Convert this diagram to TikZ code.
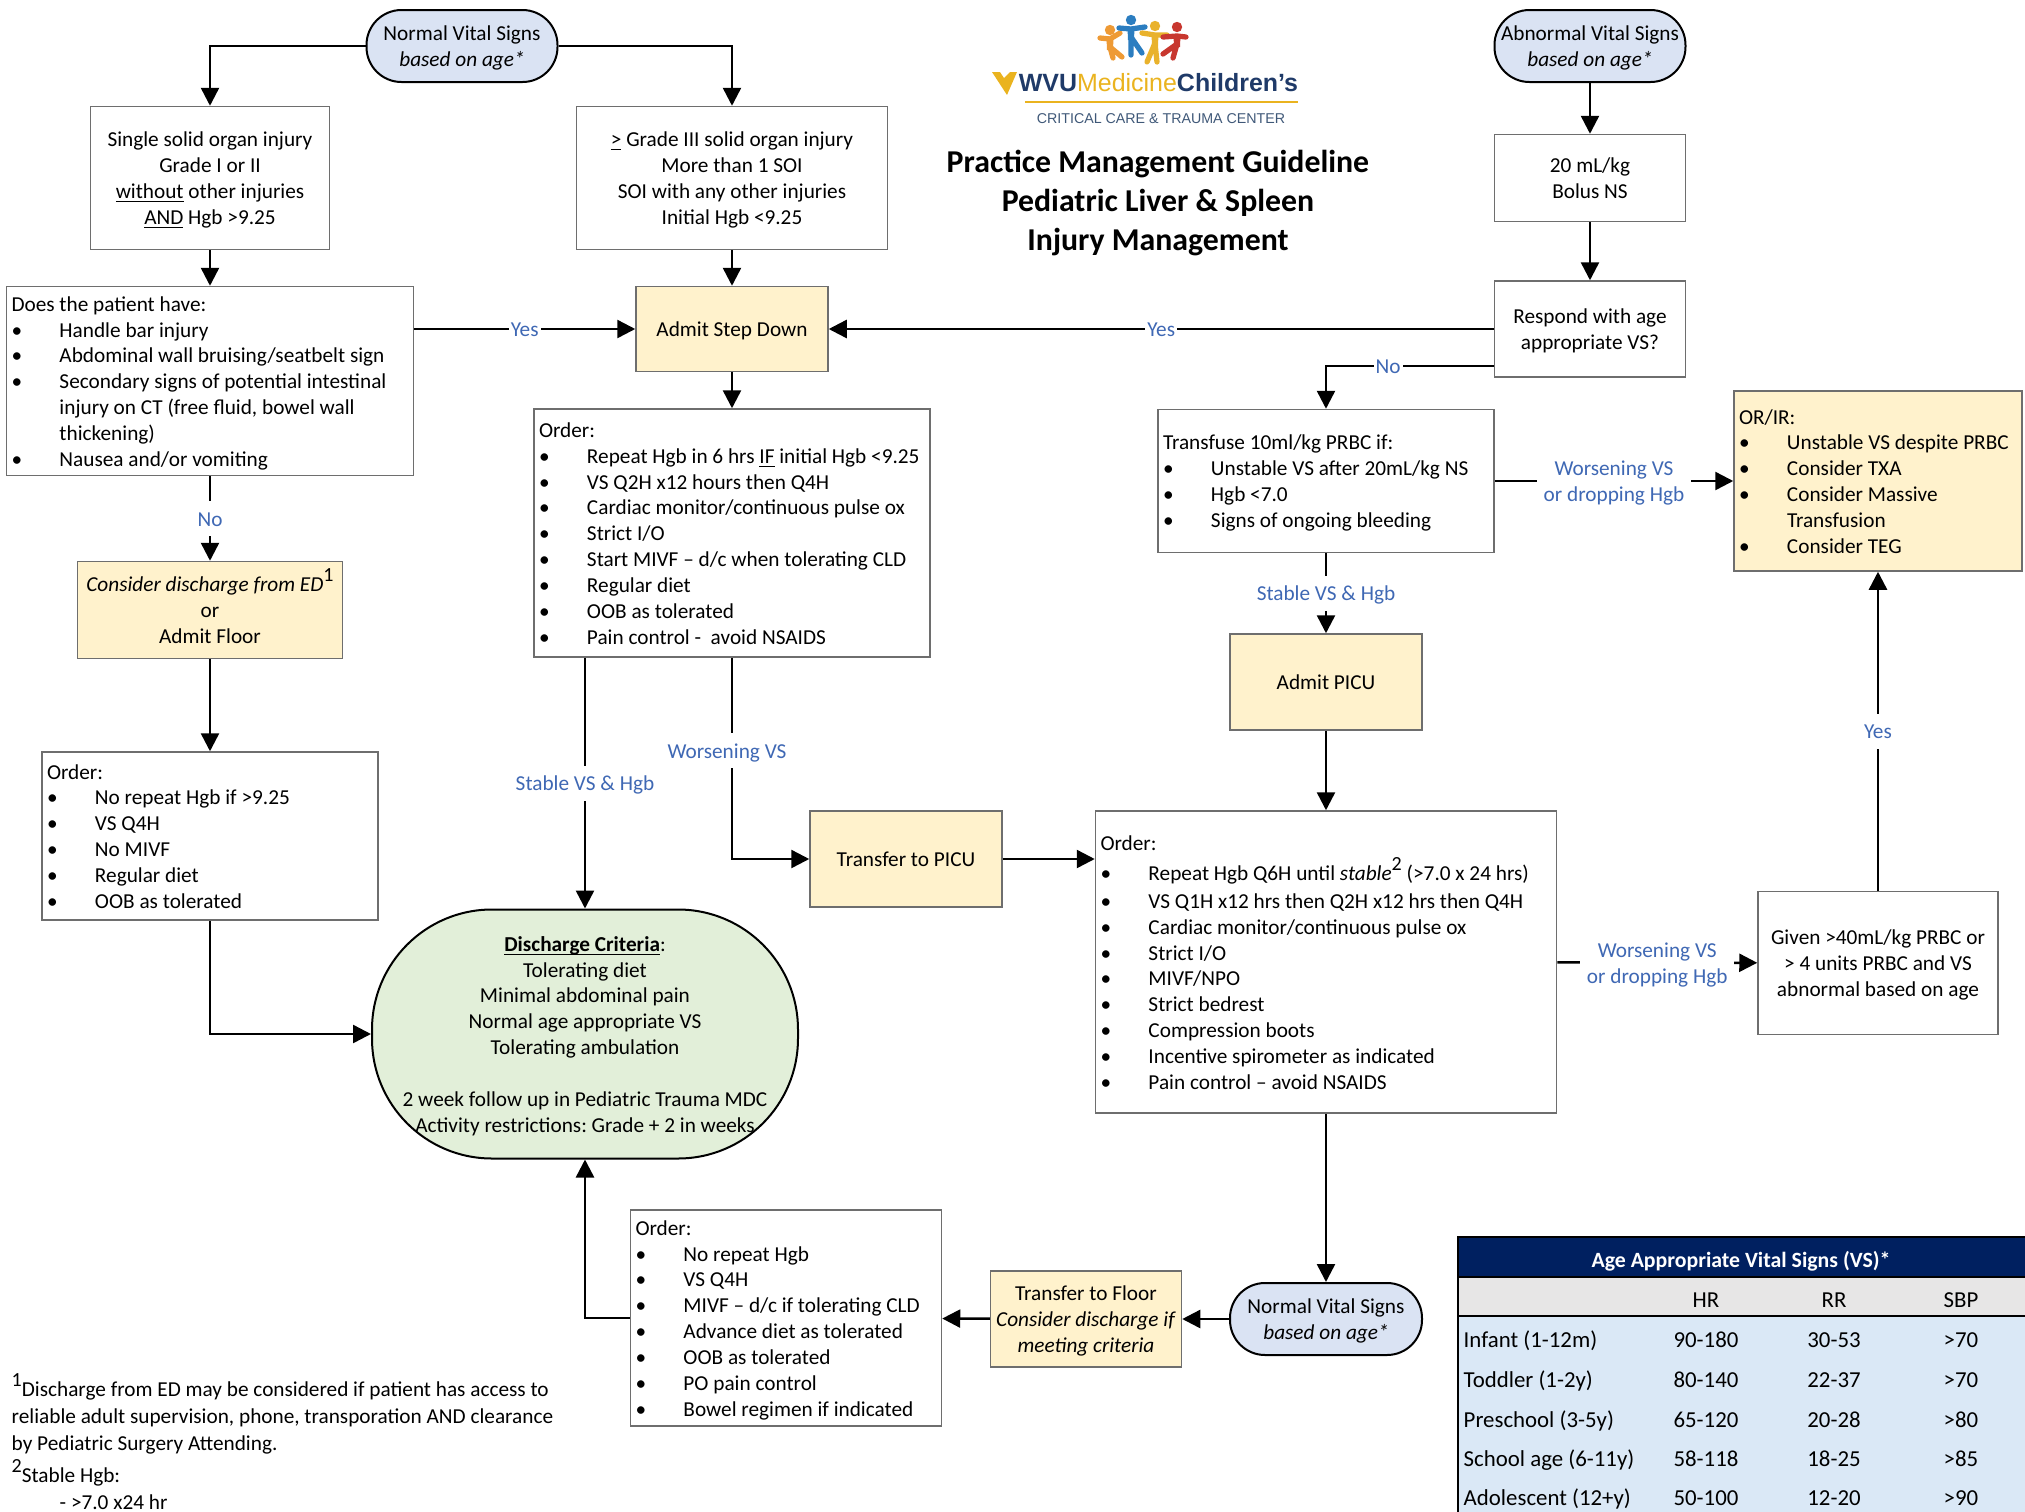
\documentclass[tikz,border=0pt]{standalone}
\usepackage{fontspec}
\setmainfont{Carlito}
\newfontfamily\logofont{Liberation Sans}
\usepackage{tikz}
\usetikzlibrary{arrows.meta}
\frenchspacing

\definecolor{ybfill}{HTML}{FFF2CC}
\definecolor{pillfill}{HTML}{DAE3F3}
\definecolor{dcfill}{HTML}{E2EFD9}
\definecolor{lblblue}{HTML}{3F68B4}
\definecolor{boxgray}{HTML}{6E6E6E}
\definecolor{navyhead}{HTML}{002060}
\definecolor{grayrow}{HTML}{E7E6E6}
\definecolor{bluerow}{HTML}{DAE8F6}
\definecolor{logonavy}{HTML}{1F3A68}
\definecolor{logogrey}{HTML}{3F5878}
\definecolor{logogold}{HTML}{EAB31F}
\definecolor{kidor}{HTML}{EE9A35}
\definecolor{kidbl}{HTML}{2B7DC0}
\definecolor{kidye}{HTML}{E9B22C}
\definecolor{kidre}{HTML}{C8372F}

\newsavebox{\ulbox}
\newcommand{\ulword}[1]{\leavevmode\sbox{\ulbox}{#1}\rlap{\rule[-1pt]{\wd\ulbox}{0.35pt}}\usebox{\ulbox}}
\newcommand{\itm}[1]{\makebox[0.48cm][l]{•}#1}
\newcommand{\ind}{\hspace*{0.48cm}}
\newcommand{\sups}[1]{\raisebox{1ex}{\fontsize{5.7}{6}\selectfont #1}}
\newcommand{\topstrut}{\rule{0pt}{6.6pt}}
% one of the four children of the logo: head, colour, arm and foot ends
\newcommand{\logokid}[7]{
\begin{scope}[shift={(#1,#2)}]
\fill[#3] (0,0) circle (0.052);
\draw[#3,line width=1.5pt,line cap=round,line join=round] #4 -- (0,0.09) -- #5;
\draw[#3,line width=1.5pt,line cap=round,line join=round] #6 -- (0,0.17) -- #7;
\fill[#3] (-0.035,0.08) -- (0.035,0.08) -- (0.03,0.2) -- (-0.03,0.2) -- cycle;
\end{scope}
}

\tikzset{
basefont/.style={font=\fontsize{6.05}{7.35}\selectfont,
  execute at begin node={\topstrut},execute at end node={\strut}},
wbox/.style 2 args={draw=boxgray,line width=0.015cm,fill=white,basefont,align=flush center,
  text width=#1cm-0.1cm,minimum width=#1cm,minimum height=#2cm,inner xsep=0.05cm,inner ysep=0pt},
listbox/.style 2 args={wbox={#1}{#2},align=flush left},
ybox/.style 2 args={wbox={#1}{#2},fill=ybfill},
pill/.style 2 args={draw=black,line width=0.02cm,fill=pillfill,basefont,align=flush center,
  text width=#1cm-0.06cm,minimum width=#1cm,minimum height=#2cm,inner xsep=0.03cm,inner ysep=0pt,rounded corners=0.35cm},
arr/.style={line width=0.025cm,-{Triangle[length=0.18cm,width=0.18cm]}},
lbl/.style={fill=white,text=lblblue,basefont,inner sep=0.02cm},
lbltwo/.style={lbl,align=flush center,text width=1.5cm},
tabtext/.style={font=\fontsize{6.5}{7.35}\selectfont,inner sep=0pt,
  execute at begin node={\topstrut},execute at end node={\strut}}
}

\begin{document}
\begin{tikzpicture}[x=1cm,y=-1cm]
\useasboundingbox (0,0) rectangle (20.25,15.12);

% logo and title
\logokid{11.10}{0.30}{kidor}{(-0.10,0.08)}{(0.10,0.03)}{(0.03,0.28)}{(0.12,0.27)}
\logokid{11.31}{0.20}{kidbl}{(-0.12,0.08)}{(0.14,0.07)}{(0,0.35)}{(0.11,0.33)}
\logokid{11.55}{0.26}{kidye}{(-0.13,0.07)}{(0.12,0.09)}{(-0.08,0.36)}{(0.02,0.36)}
\logokid{11.77}{0.27}{kidre}{(-0.14,0.10)}{(0.09,0.10)}{(-0.14,0.27)}{(-0.04,0.31)}
\fill[logogold] (9.92,0.72) -- (10.0,0.72) -- (10.04,0.78) -- (10.1,0.72) -- (10.17,0.72) -- (10.07,0.95) -- cycle;
\node[inner sep=0pt,font=\logofont\fontsize{7.1}{8}\selectfont] (logoname) at (11.585,0.83)
  {\textcolor{logonavy}{\textbf{WVU}}\textcolor{logogold}{Medicine}\textcolor{logonavy}{\textbf{Children’s}}};
\draw[logogold,line width=0.02cm] (10.25,1.017) -- (12.98,1.017);
\node[inner sep=0pt,text=logogrey,font=\logofont\fontsize{4.05}{5}\selectfont] (logocenter) at (11.61,1.19) {CRITICAL CARE \& TRAUMA CENTER};
\node[align=center,inner sep=0pt,font=\fontsize{9.05}{11}\selectfont\bfseries] (title) at (11.58,2.03)
  {Practice Management Guideline\\Pediatric Liver \& Spleen\\Injury Management};

% left and middle columns
\node[pill={1.91}{0.72}] (normalone) at (4.62,0.46) {Normal Vital Signs\\\textit{based on age*}};
\node[wbox={2.39}{1.43}] (single) at (2.10,1.78) {Single solid organ injury\\Grade I or II\\\ulword{without} other injuries\\\ulword{AND} Hgb >9.25};
\node[wbox={3.11}{1.43}] (grade) at (7.32,1.78) {\ulword{>} Grade III solid organ injury\\More than 1 SOI\\SOI with any other injuries\\Initial Hgb <9.25};
\node[listbox={4.07}{1.89}] (patient) at (2.10,3.81) {Does the patient have:\\\itm{Handle bar injury}\\\itm{Abdominal wall bruising/seatbelt sign}\\\itm{Secondary signs of potential intestinal}\\\ind injury on CT (free fluid, bowel wall\\\ind thickening)\\\itm{Nausea and/or vomiting}};
\node[ybox={1.92}{0.85}] (stepdown) at (7.32,3.29) {Admit Step Down};
\node[listbox={3.96}{2.48}] (orderone) at (7.32,5.33) {Order:\\\itm{Repeat Hgb in 6 hrs \ulword{IF} initial Hgb <9.25}\\\itm{VS Q2H x12 hours then Q4H}\\\itm{Cardiac monitor/continuous pulse ox}\\\itm{Strict I/O}\\\itm{Start MIVF – d/c when tolerating CLD}\\\itm{Regular diet}\\\itm{OOB as tolerated}\\\itm{Pain control -\ \ avoid NSAIDS}};
\node[ybox={2.65}{0.97}] (consider) at (2.10,6.10) {\textit{Consider discharge from ED}\sups{1}\\or\\Admit Floor};
\node[listbox={3.36}{1.68}] (orderleft) at (2.10,8.36) {Order:\\\itm{No repeat Hgb if >9.25}\\\itm{VS Q4H}\\\itm{No MIVF}\\\itm{Regular diet}\\\itm{OOB as tolerated}};
\node[ybox={1.92}{0.96}] (transferpicu) at (9.06,8.59) {Transfer to PICU};
\node[wbox={4.26}{2.49},draw=black,line width=0.02cm,fill=dcfill,rounded corners=1.2cm] (discharge) at (5.85,10.34)
  {\textbf{\ulword{Discharge Criteria}}:\\Tolerating diet\\Minimal abdominal pain\\Normal age appropriate VS\\Tolerating ambulation\\[7.35pt]2 week follow up in Pediatric Trauma MDC\\Activity restrictions: Grade + 2 in weeks};
\node[listbox={3.11}{2.16}] (orderlow) at (7.86,13.18) {Order:\\\itm{No repeat Hgb}\\\itm{VS Q4H}\\\itm{MIVF – d/c if tolerating CLD}\\\itm{Advance diet as tolerated}\\\itm{OOB as tolerated}\\\itm{PO pain control}\\\itm{Bowel regimen if indicated}};
\node[ybox={1.91}{0.96}] (transferfloor) at (10.86,13.19) {Transfer to Floor\\\textit{Consider discharge if}\\\textit{meeting criteria}};
\node[pill={1.92}{0.72}] (normalthree) at (13.26,13.19) {Normal Vital Signs\\\textit{based on age*}};

% right columns
\node[pill={1.91}{0.72}] (abnormal) at (15.90,0.46) {Abnormal Vital Signs\\\textit{based on age*}};
\node[wbox={1.91}{0.87}] (twenty) at (15.90,1.78) {20 mL/kg\\Bolus NS};
\node[wbox={1.91}{0.96}] (respond) at (15.90,3.29) {Respond with age\\appropriate VS?};
\node[listbox={3.36}{1.43}] (transfuse) at (13.26,4.81) {Transfuse 10ml/kg PRBC if:\\\itm{Unstable VS after 20mL/kg NS}\\\itm{Hgb <7.0}\\\itm{Signs of ongoing bleeding}};
\node[listbox={2.88}{1.80},fill=ybfill] (orir) at (18.78,4.81) {OR/IR:\\\itm{Unstable VS despite PRBC}\\\itm{Consider TXA}\\\itm{Consider Massive}\\\ind Transfusion\\\itm{Consider TEG}};
\node[ybox={1.92}{0.96}] (picu) at (13.26,6.82) {Admit PICU};
\node[listbox={4.61}{3.02}] (orderbig) at (13.26,9.62) {Order:\\[1.2pt]\itm{Repeat Hgb Q6H until \textit{stable}\sups{2} (>7.0 x 24 hrs)}\\[0.7pt]\itm{VS Q1H x12 hrs then Q2H x12 hrs then Q4H}\\\itm{Cardiac monitor/continuous pulse ox}\\\itm{Strict I/O}\\\itm{MIVF/NPO}\\\itm{Strict bedrest}\\\itm{Compression boots}\\\itm{Incentive spirometer as indicated}\\\itm{Pain control – avoid NSAIDS}};
\node[wbox={2.40}{1.43}] (given) at (18.78,9.63) {Given >40mL/kg PRBC or\\> 4 units PRBC and VS\\abnormal based on age};

% connectors
\draw[arr] (normalone.west) -| (single.north);
\draw[arr] (normalone.east) -| (grade.north);
\draw[arr] (abnormal) -- (twenty);
\draw[arr] (twenty) -- (respond);
\draw[arr] (single) -- (single |- patient.north);
\draw[arr] (grade) -- (stepdown);
\draw[arr] (patient.east |- stepdown.west) -- node[lbl] (yesone) {Yes} (stepdown.west);
\draw[arr] (respond.west) -- node[lbl] (yestwo) {Yes} (stepdown.east);
\draw[arr] ([yshift=0.12cm]respond.south west) -| node[lbl,pos=0.315] (notwo) {No} (transfuse.north);
\draw[arr] (stepdown) -- (orderone);
\draw[arr] (patient) -- node[lbl] (noone) {No} (consider);
\draw[arr] (consider) -- (orderleft);
\draw[arr] (orderleft.south) |- (discharge.west);
\draw[arr] (discharge.north |- orderone.south) -- node[lbl] (stableone) {Stable VS \& Hgb} (discharge.north);
\draw[arr] (orderone.south) |- node[lbl,pos=0.23,xshift=-0.05cm] (worseone) {Worsening VS} (transferpicu.west);
\draw[arr] (transferpicu.east) -- (orderbig.west |- transferpicu.east);
\draw[arr] (transfuse) -- node[lbl] (stabletwo) {Stable VS \& Hgb} (picu);
\draw[arr] (picu) -- (orderbig);
\draw[arr] (transfuse) -- node[lbltwo] (worsetwo) {Worsening VS\\or dropping Hgb} (orir);
\draw[arr] (orderbig) -- node[lbltwo] (worsethree) {Worsening VS\\or dropping Hgb} (given);
\draw[arr] (given) -- node[lbl] (yesthree) {Yes} (orir);
\draw[arr] (orderbig) -- (normalthree);
\draw[arr] (normalthree) -- (transferfloor);
\draw[arr] (transferfloor) -- (orderlow);
\draw[arr] (orderlow.west) -| (discharge.south);

% footnotes
\node[anchor=north west,align=left,inner sep=0pt,font=\fontsize{6.05}{7.7}\selectfont] (notes) at (0.11,13.73)
  {\sups{1}Discharge from ED may be considered if patient has access to\\reliable adult supervision, phone, transporation AND clearance\\by Pediatric Surgery Attending.\\[1.2pt]\sups{2}Stable Hgb:\\[0.2pt]\ind - >7.0 x24 hr};

% vital signs table
\fill[bluerow] (14.58,13.16) rectangle (20.25,15.12);
\fill[grayrow] (14.58,12.77) rectangle (20.25,13.16);
\fill[navyhead] (14.58,12.37) rectangle (20.25,12.77);
\draw[black,line width=0.025cm] (20.25,12.37) -- (14.58,12.37) -- (14.58,15.12);
\draw[black,line width=0.025cm] (14.58,12.77) -- (20.25,12.77);
\draw[black,line width=0.025cm] (14.58,13.16) -- (20.25,13.16);
\node[tabtext,text=white,font=\fontsize{6.2}{7.35}\selectfont\bfseries] (tabhead) at (17.41,12.60) {Age Appropriate Vital Signs (VS)*};
\node[tabtext] (tabhr) at (17.06,13.0) {HR};
\node[tabtext] (tabrr) at (18.34,13.0) {RR};
\node[tabtext] (tabsbp) at (19.61,13.0) {SBP};
\foreach \rowy/\rowname/\hrv/\rrv/\sbpv in {13.40/{Infant (1-12m)}/90-180/30-53/>70, 13.80/{Toddler (1-2y)}/80-140/22-37/>70, 14.20/{Preschool (3-5y)}/65-120/20-28/>80, 14.59/{School age (6-11y)}/58-118/18-25/>85, 14.98/{Adolescent (12+y)}/50-100/12-20/>90}
{
\node[tabtext,anchor=west] (name\rowy) at (14.63,\rowy) {\rowname};
\node[tabtext] (hr\rowy) at (17.06,\rowy) {\hrv};
\node[tabtext] (rr\rowy) at (18.34,\rowy) {\rrv};
\node[tabtext] (sbp\rowy) at (19.61,\rowy) {\sbpv};
}
\end{tikzpicture}
\end{document}
